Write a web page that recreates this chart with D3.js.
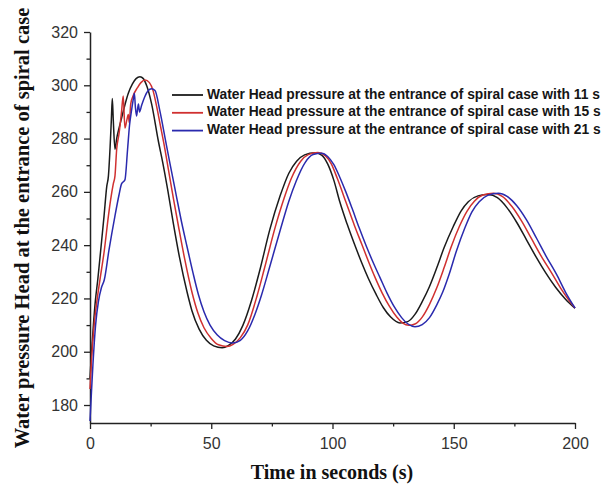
<!DOCTYPE html>
<html>
<head>
<meta charset="utf-8">
<script src="https://cdn.jsdelivr.net/npm/d3@7"></script>
<style>
  html, body { margin: 0; padding: 0; background: #fff; }
  svg { display: block; }
</style>
</head>
<body>
<div id="chart"></div>
<script>
// water head pressure, three closing times

const LABELS = [
  "Water Head pressure at the entrance of spiral case with 11 s",
  "Water Head pressure at the entrance of spiral case with 15 s",
  "Water Head pressure at the entrance of spiral case with 21 s"
];

const COLORS = ["#1b1b1b", "#d03030", "#2a2aae"];

// [time s, head]
const HEAD_11S = [
  [0,190],[0.5,198],[1.4,210],[2.2,219],[3.2,227],[4.4,238],[5.8,251],[6.9,262],
  [7.6,266],[8.3,277],[8.8,287],[9.2,295],[9.6,287],[10.3,276],[11,280],[12,284],
  [13.1,288],[14.5,293],[15.8,297],[17.5,300.5],[19,302.5],[20.6,303.2],[22,302.5],
  [23.5,299.5],[25.4,293],[28.2,279],[30,271],[32,261],[34.4,248],[37,235],[40,222.5],
  [42,215.5],[45,208.5],[48,204.3],[51,202.2],[54.5,201.5],[57,202.3],[60,204.8],
  [63,209.8],[66.7,219.5],[70,230.5],[74.2,246],[78.4,258.5],[82,267],[85.2,271.5],
  [88.5,273.9],[92.8,274.7],[95.5,273.8],[98,270.5],[100.5,264.5],[103.1,256],
  [106,248],[109,240.5],[112,233.5],[114.8,227.5],[118,221.5],[121,216.5],[124,213],
  [127.8,210.8],[131,211.3],[134,214],[137,218.8],[140,224.5],[143,231.5],[146,239],
  [149.8,247],[153,252.8],[156,256.3],[160,258.5],[164.3,259],[168,257.8],[172,254],
  [176,248.5],[180,242],[184,235.5],[188,229.5],[192,224.2],[196,219.8],[200,216.3]
];

const HEAD_15S = [
  [0,186],[0.5,195],[1.8,211],[3,220],[4.1,227],[5.9,238],[7.6,251],[8.5,257],
  [9.6,263],[10.3,266],[11,276],[12,282],[12.4,285],[13,290],[13.7,296],[14.4,284],
  [15.2,287],[15.8,289],[16.2,286],[16.8,293],[18,296.5],[19.5,299],[21,301],
  [22.7,302],[24.5,301],[26,298],[27.5,292],[29,285],[30.5,278],[32.5,267.5],
  [34.5,257],[36.5,247],[39,235],[42,222.5],[44.5,214.5],[47,209],[50,205],[53,202.6],
  [56.5,202],[59,202.8],[62,205.3],[65,210],[68.9,221],[72,231.5],[76.3,246.5],
  [80,257.5],[83,265],[86.9,271.5],[90,274],[94,274.8],[97,273.6],[99.5,270.5],
  [102,265],[105.6,256],[109,247.5],[112,240.5],[115,233.5],[117.5,228],[120.5,222],
  [123.5,217],[126.5,213],[129,210.7],[131.5,209.9],[134,210.4],[137,213],[140,217.8],
  [143,224],[146,231.5],[149,239.5],[152.3,247],[155.5,252.8],[158.5,256.5],
  [162,258.8],[166.4,259.5],[170,258.3],[174,254.5],[178,249],[182,242.5],[186,236],
  [190.4,229.5],[194,224],[197,220],[200,216.4]
];

const HEAD_21S = [
  [0,174],[0.5,183],[1.2,195],[2.3,210],[3.5,219],[4.7,224],[5.9,227],[7.8,238],
  [10.3,251],[12,259],[13,263],[14.4,264.5],[15.5,276],[16.3,285],[17.2,291],
  [17.7,294],[18.3,297],[18.7,292],[19.2,288.5],[19.6,291],[20,293],[20.4,290],
  [21.3,292.5],[22.5,295.5],[24,298],[25.4,298.7],[26.8,298],[28.9,290],[31,280],
  [33,270.5],[35.5,259],[37.8,248.5],[40,239.5],[42.5,229.5],[44.7,221.5],[47,215],
  [49.5,210],[52.5,206.3],[55.5,204.2],[58.8,203.3],[62,204.3],[65,207.8],[68,214],
  [70.8,221.5],[74,231.5],[78.4,245.5],[82,256.5],[85,264],[88.7,271],[92,274],
  [95.5,274.5],[98,273.3],[100.5,270.3],[103,265.5],[105.5,260],[108,254],[111,246.5],
  [114,239.5],[117,233],[119.5,228],[122.5,222],[125.5,216.8],[128.5,212.8],[131,210.5],
  [134,209.4],[137,210.2],[140,212.8],[143,217.6],[145.5,222.5],[148,228.8],[151,237.5],
  [154.6,246.5],[157.5,252.5],[160.5,256.3],[164,258.7],[168.4,259.5],[172,258.3],
  [176,254.8],[180,249.5],[184.2,242.5],[188,236],[192.4,229],[196,222.5],[200,216.4]
];

const SERIES = [HEAD_11S, HEAD_15S, HEAD_21S];

const X_TICKS = [0, 50, 100, 150, 200];
const X_MINOR = [25, 75, 125, 175];
const Y_TICKS = [180, 200, 220, 240, 260, 280, 300, 320];
const Y_MINOR = [190, 210, 230, 250, 270, 290, 310];

const width = 605, height = 487;
const plot = { left: 90, right: 575, top: 32, bottom: 423 };

const svg = d3.select("#chart").append("svg")
  .attr("width", width)
  .attr("height", height);

const x = d3.scaleLinear().domain([0, 200]).range([plot.left, plot.right]);
const y = d3.scaleLinear().domain([173.25, 320]).range([plot.bottom, plot.top]);

const tickFont = "'Liberation Sans', Arial, sans-serif";
const titleFont = "'Liberation Serif', 'Times New Roman', serif";

// x axis
const xAxis = svg.append("g").attr("transform", `translate(0,${plot.bottom})`);
xAxis.call(d3.axisBottom(x).tickValues(X_TICKS).tickSize(6).tickPadding(9).tickSizeOuter(0));
xAxis.append("g").call(d3.axisBottom(x).tickValues(X_MINOR).tickSize(3.5).tickFormat("").tickSizeOuter(0))
  .select(".domain").remove();

// y axis
const yAxis = svg.append("g").attr("transform", `translate(${plot.left},0)`);
yAxis.call(d3.axisLeft(y).tickValues(Y_TICKS).tickSize(6).tickPadding(6).tickSizeOuter(0));
yAxis.append("g").call(d3.axisLeft(y).tickValues(Y_MINOR).tickSize(3.5).tickFormat("").tickSizeOuter(0))
  .select(".domain").remove();

svg.selectAll(".domain").attr("stroke", "#222").attr("stroke-width", 1.5);
svg.selectAll(".tick line").attr("stroke", "#222").attr("stroke-width", 1.3);
svg.selectAll(".tick text")
  .style("font-family", tickFont)
  .style("font-size", "16px")
  .style("fill", "#333");

// series
const line = d3.line()
  .x(d => x(d[0]))
  .y(d => y(d[1]))
  .curve(d3.curveMonotoneX);

svg.append("g")
  .selectAll("path")
  .data(SERIES)
  .join("path")
  .attr("d", line)
  .attr("fill", "none")
  .attr("stroke", (d, i) => COLORS[i])
  .attr("stroke-width", 1.5)
  .attr("stroke-linejoin", "round");

// legend
const legend = svg.append("g");
LABELS.forEach((lab, i) => {
  const ly = 95 + i * 17.8;
  legend.append("line")
    .attr("x1", 172).attr("x2", 203)
    .attr("y1", ly).attr("y2", ly)
    .attr("stroke", COLORS[i])
    .attr("stroke-width", 1.8);
  legend.append("text")
    .attr("x", 207)
    .attr("y", ly)
    .attr("dominant-baseline", "middle")
    .style("font-family", tickFont)
    .style("font-weight", "bold")
    .style("font-size", "13.8px")
    .style("fill", "#151515")
    .text(lab);
});

// axis titles
svg.append("text")
  .attr("x", 332)
  .attr("y", 479)
  .attr("text-anchor", "middle")
  .style("font-family", titleFont)
  .style("font-weight", "bold")
  .style("font-size", "20px")
  .style("fill", "#111")
  .text("Time in seconds (s)");

svg.append("text")
  .attr("transform", "translate(29,228) rotate(-90)")
  .attr("text-anchor", "middle")
  .style("font-family", titleFont)
  .style("font-weight", "bold")
  .style("font-size", "20.5px")
  .style("fill", "#111")
  .text("Water pressure Head at the entrance of spiral case");
</script>
</body>
</html>
